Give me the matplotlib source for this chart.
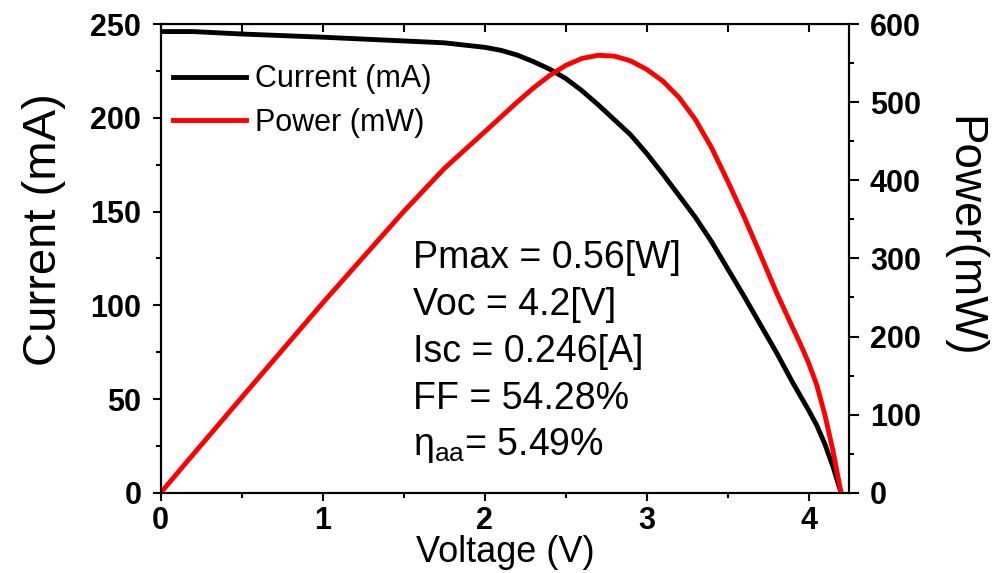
import numpy as np
import matplotlib
matplotlib.use("Agg")
import matplotlib.pyplot as plt
from matplotlib.ticker import MultipleLocator

plt.rcParams['font.family'] = ['Liberation Sans', 'DejaVu Sans']
plt.rcParams['mathtext.fontset'] = 'custom'
plt.rcParams['mathtext.rm'] = 'Liberation Sans'
plt.rcParams['mathtext.it'] = 'Liberation Sans'

# values
voltage = [0.0, 0.2, 0.5, 1.0, 1.5, 1.75, 2.0, 2.1, 2.2, 2.3, 2.4, 2.5, 2.6,
           2.7, 2.8, 2.9, 3.0, 3.1, 3.2, 3.3, 3.4, 3.5, 3.6, 3.7, 3.8, 3.9,
           3.95, 4.0, 4.05, 4.1, 4.15, 4.2]
current_ma = [246, 246, 244.7, 243, 241, 240, 237.6, 236, 233.5, 230, 226,
              221, 214.5, 207, 199, 191, 181, 170, 158.5, 147, 134, 119.5,
              105, 90, 75, 59, 51.5, 44, 36, 26, 14, 0]
power_mw = [0, 49, 122, 243, 360, 415, 462, 481, 500, 518, 534, 547, 556, 560,
            559, 553, 542, 527, 506, 478, 442, 399, 354, 306, 257, 212, 190,
            166, 138, 100, 54, 0]

summary = ["Pmax = 0.56[W]", "Voc = 4.2[V]", "Isc = 0.246[A]", "FF = 54.28%",
           r"$\mathrm{\eta_{aa}}$= 5.49%"]

fig = plt.figure(figsize=(9.92, 5.73), dpi=100)
ax = fig.add_axes([0.162, 0.140, 0.694, 0.818])
ax2 = ax.twinx()

ax.plot(voltage, current_ma, color='black', lw=3.5, label='Current (mA)')
ax2.plot(voltage, power_mw, color='#ff0000', lw=3.5, label='Power (mW)')

ax.set_xlim(0, 4.25)
ax.set_ylim(0, 250)
ax2.set_ylim(0, 600)

ax.xaxis.set_major_locator(MultipleLocator(1))
ax.xaxis.set_minor_locator(MultipleLocator(0.5))
ax.yaxis.set_major_locator(MultipleLocator(50))
ax.yaxis.set_minor_locator(MultipleLocator(25))
ax2.yaxis.set_major_locator(MultipleLocator(100))
ax2.yaxis.set_minor_locator(MultipleLocator(50))

for a in (ax, ax2):
    for s in a.spines.values():
        s.set_linewidth(1.5)
ax.tick_params(which='major', direction='out', length=6, width=1.5,
               labelsize=22, top=False)
ax.tick_params(which='minor', direction='out', length=3.5, width=1.5, top=False)
ax.tick_params(axis='y', which='major', pad=8)
ax2.tick_params(which='major', direction='out', length=7, width=1.5,
                labelsize=22, pad=8)
ax2.tick_params(which='minor', direction='out', length=3.5, width=1.5)
for lab in ax.get_xticklabels() + ax.get_yticklabels() + ax2.get_yticklabels():
    lab.set_fontweight('bold')

# top spine: inward ticks every 0.5 V, no labels
top = ax.secondary_xaxis('top')
top.xaxis.set_major_locator(MultipleLocator(0.5))
top.tick_params(direction='in', length=6, width=1.5, labeltop=False)

ax.set_xlabel('Voltage (V)', fontsize=26)
ax.xaxis.set_label_coords(0.5, -0.09)
ax.set_ylabel('Current (mA)', fontsize=34)
ax.yaxis.set_label_coords(-0.138, 0.561)
ax2.set_ylabel('Power(mW)', fontsize=33, rotation=-90)
ax2.yaxis.set_label_coords(1.198, 0.546)

h1, l1 = ax.get_legend_handles_labels()
h2, l2 = ax2.get_legend_handles_labels()
ax2.legend(h1 + h2, l1 + l2, loc='upper left', bbox_to_anchor=(0.0, 0.94),
           frameon=False, fontsize=22, handlelength=2.4, handletextpad=0.3,
           borderaxespad=0.0, labelspacing=0.45)

for i, line in enumerate(summary):
    ax.text(0.366, 0.501 - i * 0.1, line, transform=ax.transAxes,
            fontsize=27, va='center', ha='left')

fig.savefig('out.png', dpi=100)
